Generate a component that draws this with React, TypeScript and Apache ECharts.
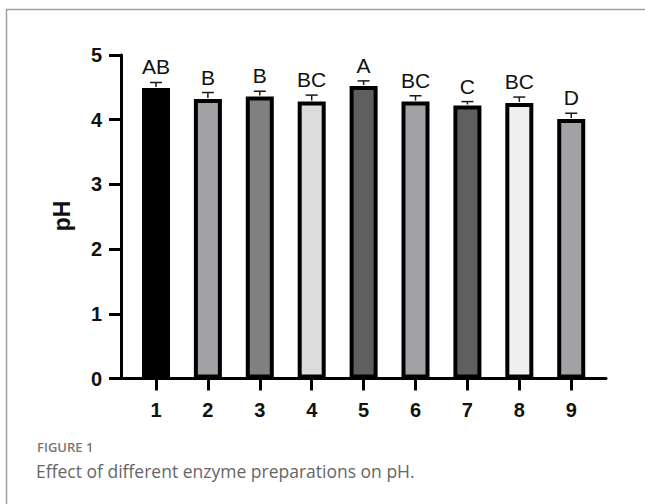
import React, { useEffect, useRef } from "react";
import * as echarts from "echarts";

const categories = [1, 2, 3, 4, 5, 6, 7, 8, 9];
const phValues = [4.49, 4.32, 4.36, 4.28, 4.52, 4.28, 4.22, 4.26, 4.01];
const phErrors = [0.085, 0.1, 0.08, 0.1, 0.08, 0.09, 0.06, 0.09, 0.09];
const letters = ["AB", "B", "B", "BC", "A", "BC", "C", "BC", "D"];
const barColors = ["#000000", "#a2a2a6", "#808080", "#dcdcdc", "#5f5f5f", "#a2a2a6", "#5f5f5f", "#efefef", "#a2a2a6"];
const yTicks = [0, 1, 2, 3, 4, 5];

export default function App() {
  const ref = useRef<HTMLDivElement>(null);
  useEffect(() => {
    if (!ref.current) return;
    const chart = echarts.init(ref.current, null, { renderer: "svg" });
    const option: any = {
      animation: false,
      backgroundColor: "#ffffff",
      grid: { left: 121, right: 39, top: 55, bottom: 125.5 },
      xAxis: {
        type: "value",
        min: 0.326,
        max: 9.67,
        splitLine: { show: false },
        axisLine: { show: true, onZero: false, lineStyle: { color: "#000", width: 3 } },
        axisTick: { show: true, customValues: categories, length: 12, lineStyle: { color: "#000", width: 3 } },
        axisLabel: {
          customValues: categories,
          fontFamily: "Liberation Sans, Arial, sans-serif",
          fontWeight: "bold",
          fontSize: 20,
          color: "#111",
          margin: 21,
        },
      },
      yAxis: {
        type: "value",
        min: 0,
        max: 5,
        interval: 1,
        splitLine: { show: false },
        axisLine: { show: true, lineStyle: { color: "#000", width: 3 } },
        axisTick: { show: true, length: 12, lineStyle: { color: "#000", width: 3 } },
        axisLabel: {
          fontFamily: "Liberation Sans, Arial, sans-serif",
          fontWeight: "bold",
          fontSize: 20,
          color: "#111",
          margin: 19,
          formatter: (v: number) => (yTicks.includes(v) ? String(v) : ""),
        },
      },
      series: [
        {
          type: "bar",
          barWidth: 28,
          data: categories.map((c, i) => ({
            value: [c, phValues[i]],
            itemStyle: { color: barColors[i], borderColor: "#000", borderWidth: 4 },
          })),
        },
        {
          type: "custom",
          z: 5,
          data: categories.map((c, i) => [c, phValues[i], phErrors[i], i]),
          renderItem: (params: any, api: any) => {
            const x = api.value(0);
            const v = api.value(1);
            const e = api.value(2);
            const idx = api.value(3);
            const base = api.coord([x, v]);
            const top = api.coord([x, v + e]);
            const style = { stroke: "#1a1a1a", lineWidth: 1.5 };
            return {
              type: "group",
              children: [
                { type: "line", shape: { x1: base[0], y1: base[1] - 1, x2: top[0], y2: top[1] }, style },
                { type: "line", shape: { x1: top[0] - 6, y1: top[1], x2: top[0] + 6, y2: top[1] }, style },
                {
                  type: "text",
                  x: top[0],
                  y: top[1] - 5,
                  style: {
                    text: letters[idx],
                    fontFamily: "Liberation Sans, Arial, sans-serif",
                    fontSize: 21,
                    fill: "#111",
                    align: "center",
                    verticalAlign: "bottom",
                  },
                },
              ],
            };
          },
        },
      ],
      graphic: [
        { type: "line", shape: { x1: 6, y1: 9.5, x2: 645, y2: 9.5 }, style: { stroke: "#a0a0a0", lineWidth: 1.5 } },
        { type: "line", shape: { x1: 6.5, y1: 9, x2: 6.5, y2: 504 }, style: { stroke: "#a0a0a0", lineWidth: 1.5 } },
        {
          type: "text",
          x: 62,
          y: 216,
          rotation: Math.PI / 2,
          style: {
            text: "pH",
            fontFamily: "Liberation Sans, Arial, sans-serif",
            fontWeight: "bold",
            fontSize: 23,
            fill: "#111",
            align: "center",
            verticalAlign: "middle",
          },
        },
        {
          type: "text",
          x: 37,
          y: 447,
          style: {
            text: "FIGURE 1",
            fontFamily: "Open Sans, sans-serif",
            fontWeight: 600,
            fontSize: 13,
            fill: "#777",
            align: "left",
            verticalAlign: "middle",
          },
        },
        {
          type: "text",
          x: 36,
          y: 471,
          style: {
            text: "Effect of different enzyme preparations on pH.",
            fontFamily: "Open Sans, sans-serif",
            fontSize: 17.5,
            fill: "#666",
            align: "left",
            verticalAlign: "middle",
          },
        },
      ],
    };
    chart.setOption(option);
    return () => chart.dispose();
  }, []);
  return (
    <div
      ref={ref}
      style={{ position: "absolute", left: 0, top: 0, width: 645, height: 504 }}
    />
  );
}
